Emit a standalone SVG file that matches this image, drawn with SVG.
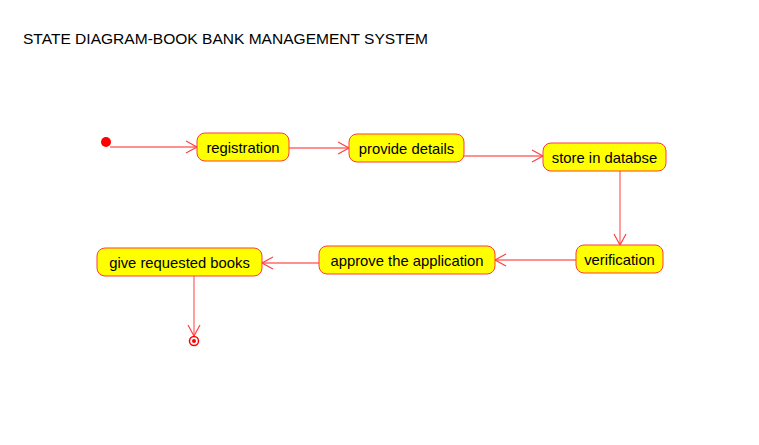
<svg xmlns="http://www.w3.org/2000/svg" width="759" height="445" viewBox="0 0 759 445">
<style>
.n rect{fill:#ffff00;stroke:#ff3b3b;stroke-width:1}
.n text{font-family:"Liberation Sans",Arial,sans-serif;font-size:14.8px;fill:#000;text-anchor:middle}
.c line{stroke:#ff6b6b;stroke-width:1.3;fill:none;marker-end:url(#ah)}
.t{font-family:"Liberation Sans",Arial,sans-serif;font-size:15.5px;fill:#000}
</style>
<defs>
<marker id="ah" markerWidth="14" markerHeight="14" refX="12" refY="7" orient="auto" markerUnits="userSpaceOnUse">
<path d="M1,1 L12,7 L1,13" fill="none" stroke="#ff4040" stroke-width="1.2"/>
</marker>
</defs>
<rect width="759" height="445" fill="#fff"/>
<text class="t" x="23" y="44" textLength="405" lengthAdjust="spacingAndGlyphs">STATE DIAGRAM-BOOK BANK MANAGEMENT SYSTEM</text>
<g class="c" id="connectors">
<line x1="110" y1="147" x2="197" y2="147"/>
<line x1="289" y1="148" x2="349" y2="148"/>
<line x1="464" y1="156" x2="543" y2="156"/>
<line x1="620" y1="171" x2="620" y2="245"/>
<line x1="576" y1="260" x2="495" y2="260"/>
<line x1="319" y1="263" x2="262" y2="263"/>
<line x1="194" y1="276" x2="194" y2="336"/>
</g>
<g id="start"><circle cx="106" cy="142" r="5" fill="#ff0000"/></g>
<g class="n" id="registration"><rect x="197" y="133" width="92" height="28" rx="8"/><text x="243" y="153">registration</text></g>
<g class="n" id="provide"><rect x="349" y="134" width="115" height="28" rx="8"/><text x="406.5" y="154">provide details</text></g>
<g class="n" id="store"><rect x="543" y="143" width="123" height="28" rx="8"/><text x="604.5" y="163">store in databse</text></g>
<g class="n" id="verification"><rect x="576" y="245" width="87" height="28" rx="8"/><text x="619.5" y="265">verification</text></g>
<g class="n" id="approve"><rect x="319" y="246" width="176" height="28" rx="8"/><text x="407" y="266">approve the application</text></g>
<g class="n" id="give"><rect x="97" y="248" width="165" height="28" rx="8"/><text x="179.5" y="268">give requested books</text></g>
<g id="end"><circle cx="194" cy="341" r="4.5" fill="#fff" stroke="#ff0000" stroke-width="1.5"/><circle cx="194" cy="341" r="2" fill="#ff0000"/></g>
</svg>
